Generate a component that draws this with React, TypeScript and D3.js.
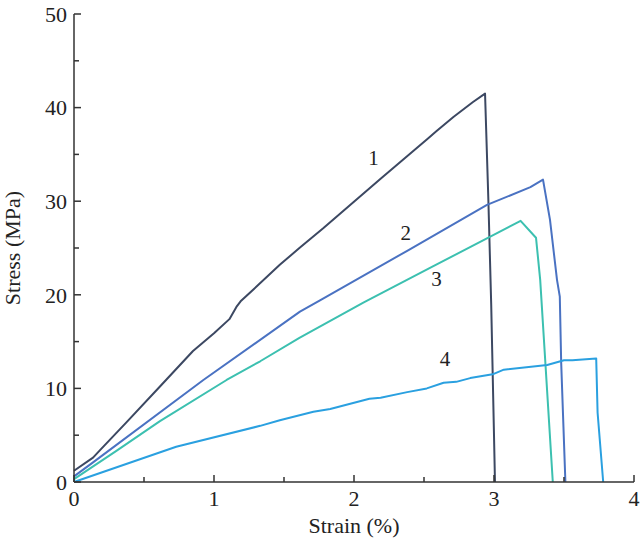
import React from "react";
import * as d3 from "d3";

const strain1 = [0, 0.136, 0.186, 0.376, 0.614, 0.85, 1.0, 1.11, 1.16, 1.19, 1.47, 1.61, 1.78, 2.19, 2.52, 2.59, 2.71, 2.85, 2.936, 2.96, 2.98, 3.0, 3.007];
const stress1 = [1.2, 2.6, 3.4, 6.4, 10.2, 14.0, 15.9, 17.4, 18.7, 19.3, 23.2, 25.0, 27.1, 32.4, 36.6, 37.5, 39.0, 40.6, 41.5, 30, 19, 5, 0];

const strain2 = [0, 0.136, 0.924, 1.614, 1.757, 2.38, 2.95, 3.26, 3.35, 3.4, 3.45, 3.47, 3.48, 3.51];
const stress2 = [0.6, 2.1, 10.9, 18.2, 19.4, 24.7, 29.6, 31.5, 32.3, 28, 21.6, 19.8, 12.7, 0];

const strain3 = [0, 0.3, 0.614, 1.09, 1.33, 1.61, 2.07, 2.56, 2.97, 3.19, 3.3, 3.33, 3.42];
const stress3 = [0.3, 3.3, 6.5, 10.9, 12.9, 15.4, 19.2, 23.0, 26.2, 27.9, 26.1, 21.6, 0];

const strain4 = [0, 0.73, 1.33, 1.47, 1.71, 1.83, 2.11, 2.19, 2.38, 2.52, 2.64, 2.73, 2.83, 2.99, 3.07, 3.38, 3.5, 3.56, 3.73, 3.74, 3.78];
const stress4 = [0, 3.77, 6.0, 6.6, 7.5, 7.8, 8.9, 9.0, 9.6, 10.0, 10.6, 10.7, 11.1, 11.5, 12.0, 12.5, 13.0, 13.0, 13.2, 7.4, 0];

const seriesLabels = ["1", "2", "3", "4"];
const labelPos: [number, number][] = [[2.14, 34.6], [2.37, 26.6], [2.59, 21.7], [2.65, 13.2]];
const colors = ["#3c4862", "#4a72c2", "#3cc0b0", "#2aa0e0"];

const xTicks = [0, 1, 2, 3, 4];
const yTicks = [0, 10, 20, 30, 40, 50];

export default function App() {
  const W = 640, H = 539;
  const x = d3.scaleLinear().domain([0, 4]).range([74, 634]);
  const y = d3.scaleLinear().domain([0, 50]).range([482, 14]);
  const series = [
    [strain1, stress1],
    [strain2, stress2],
    [strain3, stress3],
    [strain4, stress4],
  ];
  const line = d3.line<[number, number]>().x(d => x(d[0])).y(d => y(d[1]));
  const font = "'Liberation Serif', 'Times New Roman', serif";
  const axisColor = "#333";
  const xMinor = d3.range(0.5, 4, 1);
  const yMinor = d3.range(5, 50, 10);
  return (
    <svg width={W} height={H} style={{ position: "absolute", left: 0, top: 0 }} fontFamily={font}>
      <rect width={W} height={H} fill="#fff" />
      {series.map(([sx, sy], i) => (
        <path key={i} d={line(sx.map((v, j) => [v, sy[j]] as [number, number])) || ""}
          fill="none" stroke={colors[i]} strokeWidth={2} strokeLinejoin="round" />
      ))}
      <line x1={x(0)} x2={x(0)} y1={y(0)} y2={y(50)} stroke={axisColor} strokeWidth={1.5} />
      <line x1={x(0)} x2={x(4)} y1={y(0)} y2={y(0)} stroke={axisColor} strokeWidth={1.5} />
      {yTicks.map(t => (
        <g key={"y" + t}>
          <line x1={x(0)} x2={x(0) + 7} y1={y(t)} y2={y(t)} stroke={axisColor} strokeWidth={1.5} />
          <text x={67} y={y(t)} dy="0.35em" textAnchor="end" fontSize={22} fill="#222">{t}</text>
        </g>
      ))}
      {yMinor.map(t => (
        <line key={"ym" + t} x1={x(0)} x2={x(0) + 5} y1={y(t)} y2={y(t)} stroke={axisColor} strokeWidth={1.5} />
      ))}
      {xTicks.map(t => (
        <g key={"x" + t}>
          <line x1={x(t)} x2={x(t)} y1={y(0)} y2={y(0) - 7} stroke={axisColor} strokeWidth={1.5} />
          <text x={x(t)} y={506} textAnchor="middle" fontSize={22} fill="#222">{t}</text>
        </g>
      ))}
      {xMinor.map(t => (
        <line key={"xm" + t} x1={x(t)} x2={x(t)} y1={y(0)} y2={y(0) - 5} stroke={axisColor} strokeWidth={1.5} />
      ))}
      {seriesLabels.map((s, i) => (
        <text key={"l" + s} x={x(labelPos[i][0])} y={y(labelPos[i][1])} dy="0.35em" textAnchor="middle" fontSize={21} fill="#222">{s}</text>
      ))}
      <text x={354} y={533} textAnchor="middle" fontSize={22} fill="#222">Strain (%)</text>
      <text transform={`translate(20,248) rotate(-90)`} textAnchor="middle" fontSize={22} fill="#222">Stress (MPa)</text>
    </svg>
  );
}
